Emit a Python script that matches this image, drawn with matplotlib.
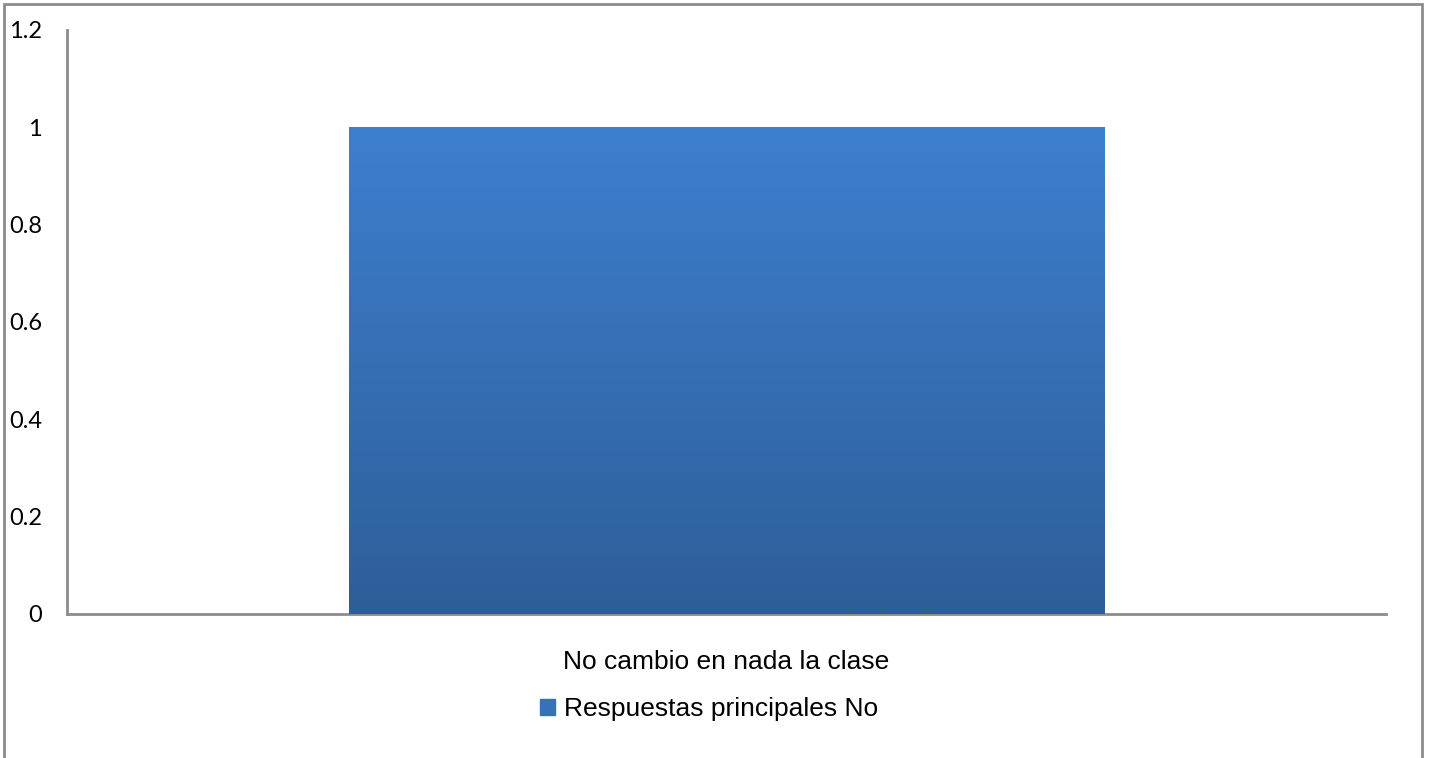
import numpy as np
import matplotlib.pyplot as plt
from matplotlib.patches import Rectangle
from matplotlib.colors import LinearSegmentedColormap

# Datos
categorias = ["No cambio en nada la clase"]
valores = [1]
serie = "Respuestas principales No"
yticks = [0, 0.2, 0.4, 0.6, 0.8, 1, 1.2]
ytick_labels = ["0", "0.2", "0.4", "0.6", "0.8", "1", "1.2"]

W, H = 1432, 758
fig = plt.figure(figsize=(W / 100, H / 100), dpi=100)
ax = fig.add_axes([67 / W, 1 - 614 / H, (1386 - 67) / W, (614 - 30) / H])

# marco del grafico
fig.patches.append(Rectangle((4 / W, -0.05), (1422 - 4) / W, 1.05 - 4 / H,
                             transform=fig.transFigure, fill=False,
                             edgecolor="#8c8c8c", linewidth=2))

x = np.arange(len(categorias))
bars = ax.bar(x, valores, width=0.573, color="#3672b8", zorder=2)

# degradado vertical en la barra
cmap = LinearSegmentedColormap.from_list("grad", ["#2e5e98", "#3d7fcf"])
grad = np.linspace(0, 1, 256).reshape(-1, 1)
for b in bars:
    im = ax.imshow(grad, cmap=cmap, origin="lower", aspect="auto",
                   extent=[b.get_x(), b.get_x() + b.get_width(), 0, b.get_height()],
                   zorder=3)
    im.set_clip_path(b)

ax.set_xlim(-0.5, 0.5)
ax.set_ylim(0, 1.2)
ax.set_yticks(yticks)
ax.set_yticklabels(ytick_labels, fontsize=17, family="Lato")
ax.set_xticks(x)
ax.set_xticklabels(categorias, fontsize=19, family="Liberation Sans")
ax.tick_params(axis="y", length=0, pad=18)
ax.tick_params(axis="x", length=0, pad=26)
for s in ["top", "right"]:
    ax.spines[s].set_visible(False)
for s in ["left", "bottom"]:
    ax.spines[s].set_color("#8c8c8c")
    ax.spines[s].set_linewidth(2)

ax.legend([Rectangle((0, 0), 1, 1, color="#3672b8")], [serie],
          loc="center", bbox_to_anchor=(709 / W, 1 - 709 / H),
          bbox_transform=fig.transFigure, frameon=False,
          prop={"family": "Liberation Sans", "size": 19},
          handlelength=0.55, handleheight=0.55, handletextpad=0.35)

fig.savefig("out.png", dpi=100)
